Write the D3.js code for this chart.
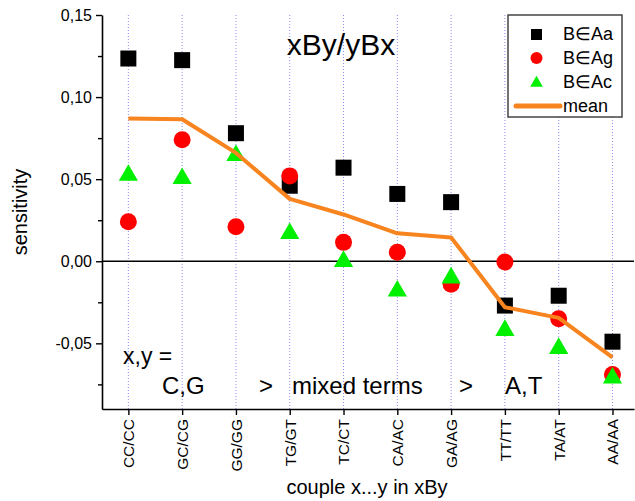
<!DOCTYPE html>
<html>
<head>
<meta charset="utf-8">
<script src="https://cdn.jsdelivr.net/npm/d3@7"></script>
<style>
  body { margin: 0; background: #fff; }
  text { font-family: "Liberation Sans", Arial, sans-serif; fill: #000; }
</style>
</head>
<body>
<script>
(function() {
  var categories, aaValues, agValues, acValues, meanValues, yTicks, yMinorTicks, legendNames;
  var svg, x, y, left, right, top, bottom, fmt, plot, legend;

  categories = ['CC/CC', 'GC/CG', 'GG/GG', 'TG/GT', 'TC/CT', 'CA/AC', 'GA/AG', 'TT/TT', 'TA/AT', 'AA/AA'];
  aaValues = [0.1235, 0.1225, 0.078, 0.046, 0.057, 0.041, 0.036, -0.027, -0.021, -0.049];
  agValues = [0.024, 0.074, 0.021, 0.052, 0.0115, 0.0055, -0.014, -0.0005, -0.035, -0.069];
  acValues = [0.053, 0.051, 0.065, 0.0175, 0.0005, -0.0175, -0.0095, -0.0415, -0.0525, -0.0705];
  meanValues = [0.087, 0.0865, 0.066, 0.038, 0.0285, 0.017, 0.0145, -0.028, -0.0345, -0.0585];
  yTicks = [-0.05, 0, 0.05, 0.10, 0.15];
  yMinorTicks = [-0.075, -0.025, 0.025, 0.075, 0.125];
  legendNames = ['B\u2208Aa', 'B\u2208Ag', 'B\u2208Ac', 'mean'];

  left = 102; right = 634; top = 15; bottom = 409;

  svg = d3.select('body').append('svg').attr('width', 635).attr('height', 501);

  x = d3.scaleLinear().domain([-0.49, 9.4]).range([left, right]);
  y = d3.scaleLinear().domain([-0.09, 0.15]).range([bottom, top]);

  fmt = function(d) { return d3.format('.2f')(d).replace('.', ',').replace('\u2212', '-'); };

  plot = svg.append('g');

  // dotted vertical grid
  plot.selectAll('line.grid').data(categories).enter().append('line')
    .attr('class', 'grid')
    .attr('x1', function(d, i) { return x(i); }).attr('x2', function(d, i) { return x(i); })
    .attr('y1', top).attr('y2', bottom)
    .attr('stroke', '#8c8cf0').attr('stroke-width', 1).attr('stroke-dasharray', '1,2');

  // zero line
  plot.append('line')
    .attr('x1', left).attr('x2', right).attr('y1', y(0)).attr('y2', y(0))
    .attr('stroke', '#000').attr('stroke-width', 1.6);

  // axes
  var yAxis = d3.axisLeft(y).tickValues(yTicks).tickFormat(fmt).tickSize(6).tickSizeOuter(0);
  var gy = svg.append('g').attr('transform', 'translate(' + left + ',0)').call(yAxis);
  gy.select('.domain').attr('stroke-width', 1.6);
  gy.selectAll('.tick line').attr('stroke-width', 1.4);
  gy.selectAll('text').style('font-size', '16px').attr('x', -10);

  var gyMinor = svg.append('g').attr('transform', 'translate(' + left + ',0)')
    .call(d3.axisLeft(y).tickValues(yMinorTicks).tickFormat('').tickSize(4).tickSizeOuter(0));
  gyMinor.select('.domain').remove();
  gyMinor.selectAll('.tick line').attr('stroke-width', 1.4);

  var xAxis = d3.axisBottom(x).tickValues(d3.range(categories.length))
    .tickFormat(function(i) { return categories[i]; }).tickSize(6).tickSizeOuter(0);
  var gx = svg.append('g').attr('transform', 'translate(0,' + bottom + ')').call(xAxis);
  gx.select('.domain').attr('stroke-width', 1.6);
  gx.selectAll('.tick line').attr('stroke-width', 1.4);
  gx.selectAll('text').style('font-size', '15.5px')
    .attr('transform', 'rotate(-90)')
    .attr('x', -10).attr('y', 0).attr('dy', '0.35em')
    .style('text-anchor', 'end');

  // axis titles
  svg.append('text').attr('transform', 'translate(27,' + ((top + bottom) / 2) + ') rotate(-90)')
    .style('text-anchor', 'middle').style('font-size', '20px').text('sensitivity');
  svg.append('text').attr('x', 367).attr('y', 494)
    .style('text-anchor', 'middle').style('font-size', '20px').text('couple x...y in xBy');

  // annotations
  svg.append('text').attr('x', 341).attr('y', 55).style('text-anchor', 'middle').style('font-size', '30px').text('xBy/yBx');
  svg.append('text').attr('x', 123).attr('y', 364).style('font-size', '23px').text('x,y =');
  svg.append('text').attr('x', 162).attr('y', 394).style('font-size', '24px').text('C,G');
  svg.append('text').attr('x', 259).attr('y', 394).style('font-size', '24px').text('>');
  svg.append('text').attr('x', 292).attr('y', 394).style('font-size', '24px').text('mixed terms');
  svg.append('text').attr('x', 459).attr('y', 394).style('font-size', '24px').text('>');
  svg.append('text').attr('x', 505).attr('y', 394).style('font-size', '24px').text('A,T');

  // markers
  var sq = 16, r = 8.5;
  var tri = d3.symbol().type(d3.symbolTriangle).size(160);

  plot.selectAll('rect.aa').data(aaValues).enter().append('rect')
    .attr('class', 'aa')
    .attr('x', function(d, i) { return x(i) - sq / 2; })
    .attr('y', function(d) { return y(d) - sq / 2; })
    .attr('width', sq).attr('height', sq).attr('fill', '#000');

  plot.selectAll('circle.ag').data(agValues).enter().append('circle')
    .attr('class', 'ag')
    .attr('cx', function(d, i) { return x(i); })
    .attr('cy', function(d) { return y(d); })
    .attr('r', r).attr('fill', '#f00');

  plot.selectAll('path.ac').data(acValues).enter().append('path')
    .attr('class', 'ac')
    .attr('d', tri)
    .attr('transform', function(d, i) { return 'translate(' + x(i) + ',' + (y(d) + 1) + ')'; })
    .attr('fill', '#00f000');

  var line = d3.line().x(function(d, i) { return x(i); }).y(function(d) { return y(d); });
  plot.append('path').datum(meanValues)
    .attr('d', line).attr('fill', 'none')
    .attr('stroke', '#f7841e').attr('stroke-width', 4).attr('stroke-linejoin', 'round');

  // legend
  legend = svg.append('g').attr('transform', 'translate(508,15)');
  legend.append('rect').attr('width', 114).attr('height', 102)
    .attr('fill', '#fff').attr('stroke', '#444').attr('stroke-width', 1.5);
  legend.selectAll('text').data(legendNames).enter().append('text')
    .attr('x', 55).attr('y', function(d, i) { return 19 + i * 24; })
    .attr('dy', '0.35em').style('font-size', '18px').text(function(d) { return d; });
  legend.append('rect').attr('x', 23).attr('y', 14).attr('width', 11).attr('height', 11).attr('fill', '#000');
  legend.append('circle').attr('cx', 28.5).attr('cy', 43).attr('r', 6).attr('fill', '#f00');
  legend.append('path').attr('d', d3.symbol().type(d3.symbolTriangle).size(70))
    .attr('transform', 'translate(28.5,68)').attr('fill', '#00f000');
  legend.append('line').attr('x1', 8).attr('x2', 52).attr('y1', 91).attr('y2', 91)
    .attr('stroke', '#f7841e').attr('stroke-width', 5).attr('stroke-linecap', 'round');
})();
</script>
</body>
</html>
